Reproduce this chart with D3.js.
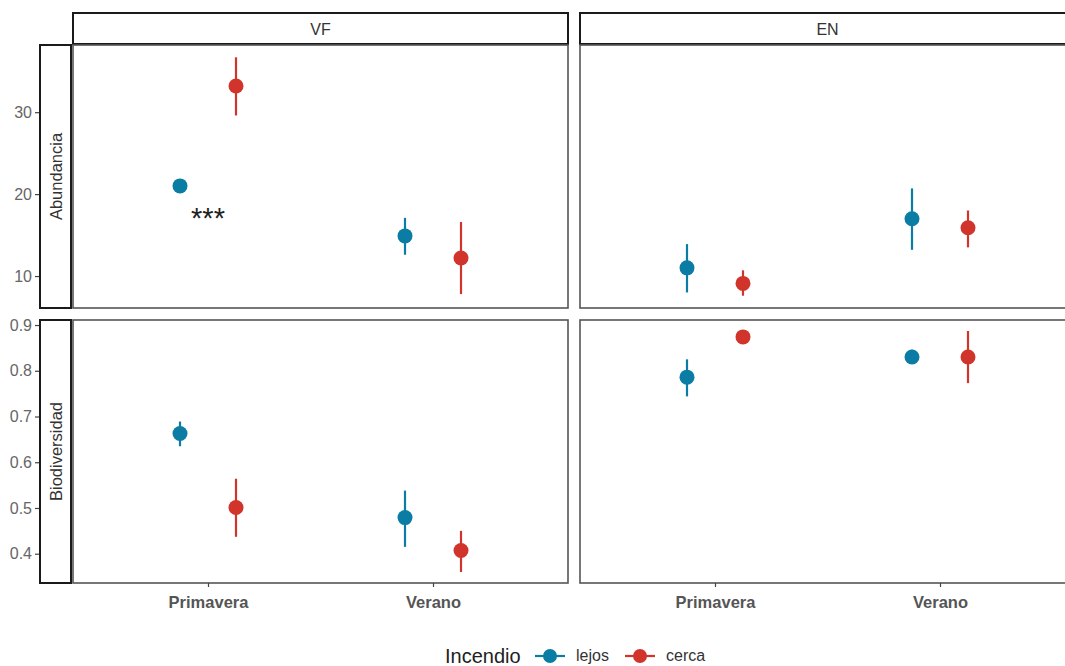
<!DOCTYPE html>
<html><head><meta charset="utf-8">
<script src="https://cdn.jsdelivr.net/npm/d3@7"></script>
<style>body{margin:0;background:#fff}svg{display:block}</style>
</head><body>
<svg id="c" width="1065" height="666"></svg>
<script>
// ---- data ----
const facets = ["VF", "EN"];
const metrics = ["Abundancia", "Biodiversidad"];
const seasons = ["Primavera", "Verano"];
const groups = ["lejos", "cerca"];
const groupColors = ["#0b7ca3", "#d1342b"];
// order of each array: Primavera-lejos, Primavera-cerca, Verano-lejos, Verano-cerca
const abVF_mean = [21.0, 33.2, 14.9, 12.2];
const abVF_lo   = [20.8, 29.6, 12.6, 7.8];
const abVF_hi   = [21.2, 36.7, 17.1, 16.6];
const abEN_mean = [11.0, 9.1, 17.0, 15.9];
const abEN_lo   = [8.0, 7.6, 13.2, 13.5];
const abEN_hi   = [13.9, 10.7, 20.7, 18.0];
const bdVF_mean = [0.663, 0.501, 0.479, 0.407];
const bdVF_lo   = [0.635, 0.437, 0.415, 0.360];
const bdVF_hi   = [0.689, 0.564, 0.538, 0.450];
const bdEN_mean = [0.786, 0.874, 0.830, 0.830];
const bdEN_lo   = [0.744, 0.871, 0.818, 0.773];
const bdEN_hi   = [0.825, 0.877, 0.846, 0.887];
const abTicks = [10, 20, 30];
const bdTicks = [0.4, 0.5, 0.6, 0.7, 0.8, 0.9];
const abDomain = [6.1, 38.2];
const bdDomain = [0.336, 0.911];
const annotText = "***";

const series = {
  Abundancia: {VF: [abVF_mean, abVF_lo, abVF_hi], EN: [abEN_mean, abEN_lo, abEN_hi]},
  Biodiversidad: {VF: [bdVF_mean, bdVF_lo, bdVF_hi], EN: [bdEN_mean, bdEN_lo, bdEN_hi]}
};
const yInfo = {
  Abundancia: {domain: abDomain, ticks: abTicks, fmt: d3.format("d")},
  Biodiversidad: {domain: bdDomain, ticks: bdTicks, fmt: d3.format(".1f")}
};

// ---- layout ----
const svg = d3.select("#c");
const font = "'Liberation Sans', Arial, sans-serif";
const panelX = [73, 580], panelW = 495;
const panelY = [45, 320], panelH = 263;
const stripTop = 13, stripH = 31;
const stripLeft = 40, stripW = 31;

// ggplot-like discrete positions: centers at 0.6/2.2 and 1.6/2.2 of panel width
const xc = d3.scalePoint().domain(seasons).range([panelW * 0.6 / 2.2, panelW * 1.6 / 2.2]);
const dodge = d3.scalePoint().domain(groups).range([-28, 28]);

// strips top
facets.forEach((f, fi) => {
  svg.append("rect").attr("x", panelX[fi]).attr("y", stripTop).attr("width", panelW).attr("height", stripH)
    .attr("fill", "#fff").attr("stroke", "#1a1a1a").attr("stroke-width", 2);
  svg.append("text").attr("x", panelX[fi] + panelW / 2).attr("y", stripTop + stripH / 2 + 6)
    .attr("text-anchor", "middle").attr("font-family", font).attr("font-size", 16).attr("fill", "#333").text(f);
});

metrics.forEach((m, mi) => {
  const y = d3.scaleLinear().domain(yInfo[m].domain).range([panelY[mi] + panelH, panelY[mi]]);
  // left strip
  svg.append("rect").attr("x", stripLeft).attr("y", panelY[mi]).attr("width", stripW).attr("height", panelH)
    .attr("fill", "#fff").attr("stroke", "#1a1a1a").attr("stroke-width", 2);
  const cy = panelY[mi] + panelH / 2;
  svg.append("text").attr("transform", `translate(${stripLeft + stripW / 2 + 6},${cy}) rotate(-90)`)
    .attr("text-anchor", "middle").attr("font-family", font).attr("font-size", 16.5).attr("fill", "#333").text(m);
  // y axis
  const ax = svg.append("g").attr("transform", `translate(39,0)`)
    .call(d3.axisLeft(y).tickValues(yInfo[m].ticks).tickFormat(yInfo[m].fmt).tickSize(4).tickPadding(3));
  ax.select(".domain").remove();
  ax.selectAll("line").attr("stroke", "#444").attr("stroke-width", 1.2);
  ax.selectAll("text").attr("font-family", font).attr("font-size", 16).attr("fill", "#666");

  facets.forEach((f, fi) => {
    const g = svg.append("g").attr("transform", `translate(${panelX[fi]},0)`);
    g.append("rect").attr("x", 0).attr("y", panelY[mi]).attr("width", panelW).attr("height", panelH)
      .attr("fill", "#fff").attr("stroke", "#555").attr("stroke-width", 1.6);
    const [mean, lo, hi] = series[m][f];
    const rows = [];
    seasons.forEach((s, si) => groups.forEach((gr, gi) => {
      const k = si * 2 + gi;
      rows.push({s, gr, gi, mean: mean[k], lo: lo[k], hi: hi[k]});
    }));
    g.selectAll("line.err").data(rows).join("line").attr("class", "err")
      .attr("x1", d => xc(d.s) + dodge(d.gr)).attr("x2", d => xc(d.s) + dodge(d.gr))
      .attr("y1", d => y(d.lo)).attr("y2", d => y(d.hi))
      .attr("stroke", d => groupColors[d.gi]).attr("stroke-width", 2.2);
    g.selectAll("circle").data(rows).join("circle")
      .attr("cx", d => xc(d.s) + dodge(d.gr)).attr("cy", d => y(d.mean)).attr("r", 7.5)
      .attr("fill", d => groupColors[d.gi]);
    if (mi === 1) {
      const xa = g.append("g").attr("transform", `translate(0,${panelY[mi] + panelH})`)
        .call(d3.axisBottom(xc).tickSize(4).tickPadding(9));
      xa.select(".domain").remove();
      xa.selectAll("line").attr("stroke", "#444").attr("stroke-width", 1.2);
      xa.selectAll("text").attr("font-family", font).attr("font-size", 16.5).attr("font-weight", "bold").attr("fill", "#555");
    }
    if (mi === 0 && fi === 0) {
      g.append("text").attr("x", xc("Primavera") + dodge("lejos") + 28).attr("y", y(abVF_mean[0]) + 42)
        .attr("text-anchor", "middle").attr("font-family", font).attr("font-size", 29).attr("fill", "#222").text(annotText);
    }
  });
});

// legend
const lg = svg.append("g").attr("transform", "translate(0,656)");
lg.append("text").attr("x", 445).attr("y", 7).attr("font-family", font).attr("font-size", 20).attr("fill", "#222").text("Incendio");
const keyX = [550, 640];
groups.forEach((gr, gi) => {
  lg.append("line").attr("x1", keyX[gi] - 15).attr("x2", keyX[gi] + 15).attr("y1", 0).attr("y2", 0)
    .attr("stroke", groupColors[gi]).attr("stroke-width", 2.2);
  lg.append("circle").attr("cx", keyX[gi]).attr("cy", 0).attr("r", 7).attr("fill", groupColors[gi]);
  lg.append("text").attr("x", keyX[gi] + 26).attr("y", 5).attr("font-family", font).attr("font-size", 16).attr("fill", "#333").text(gr);
});
</script>
</body></html>
